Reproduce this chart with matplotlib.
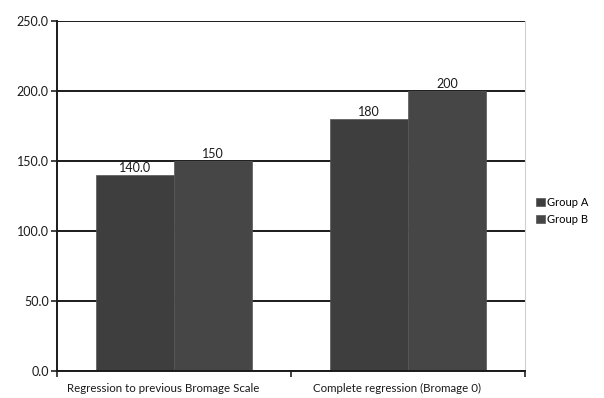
import matplotlib
matplotlib.use("Agg")
import matplotlib.pyplot as plt
import numpy as np

plt.rcParams['font.family'] = ['Lato', 'DejaVu Sans']

categories = ["Regression to previous Bromage Scale", "Complete regression (Bromage 0)"]
group_a = [140.0, 180]
group_b = [150, 200]
labels_a = ["140.0", "180"]
labels_b = ["150", "200"]
series_names = ["Group A", "Group B"]
yticks = [0, 50, 100, 150, 200, 250]

fig = plt.figure(figsize=(6.04, 3.98), dpi=100)
ax = fig.add_axes([57/604, 27/398, 468/604, 350/398])

x = np.arange(len(categories))
w = 1/3
ba = ax.bar(x - w/2, group_a, w, color="#3e3e3e", label=series_names[0], linewidth=0.5, edgecolor="#555555")
bb = ax.bar(x + w/2, group_b, w, color="#464646", label=series_names[1], linewidth=0.5, edgecolor="#555555")

fs = 9
for rect, lab in zip(ba, labels_a):
    ax.text(rect.get_x() + rect.get_width()/2, rect.get_height() + 1, lab,
            ha="center", va="bottom", fontsize=fs, color="#1a1a1a")
for rect, lab in zip(bb, labels_b):
    ax.text(rect.get_x() + rect.get_width()/2, rect.get_height() + 1, lab,
            ha="center", va="bottom", fontsize=fs, color="#1a1a1a")

ax.set_xlim(-0.5, len(categories) - 0.5)
ax.set_ylim(0, 250)
ax.set_yticks(yticks)
ax.set_yticklabels([f"{v:.1f}" for v in yticks], fontsize=fs, color="#1a1a1a")
ax.yaxis.grid(True, color="#1a1a1a", linewidth=1.4)
ax.set_axisbelow(True)

# category labels (slightly left of the category centre, as in the reference)
ax.set_xticks(x)
ax.set_xticklabels([])
for xi, cat in zip(x, categories):
    ax.annotate(cat, xy=(xi, 0), xycoords=('data', 'axes fraction'),
                xytext=(-11, -12), textcoords='offset pixels',
                ha='center', va='top', fontsize=8.3, color="#1a1a1a")
ax.set_xticks([-0.5, 0.5, 1.5], minor=True)
ax.tick_params(axis='x', which='major', length=0)
ax.tick_params(axis='x', which='minor', length=4, width=1.2, color="#222222")
ax.tick_params(axis='y', length=4, width=1.2, color="#222222", pad=2)

for s in ["left", "bottom"]:
    ax.spines[s].set_color("#1a1a1a")
    ax.spines[s].set_linewidth(1.4)
ax.spines["right"].set_color("#d0d0d0")
ax.spines["right"].set_linewidth(0.8)
ax.spines["top"].set_visible(False)

leg = ax.legend(loc="center left", bbox_to_anchor=(1.015, 0.457), frameon=False,
                fontsize=8, handlelength=0.8, handleheight=0.8, handletextpad=0.15,
                labelspacing=0.55, borderaxespad=0)

fig.savefig("out.png", dpi=100)
